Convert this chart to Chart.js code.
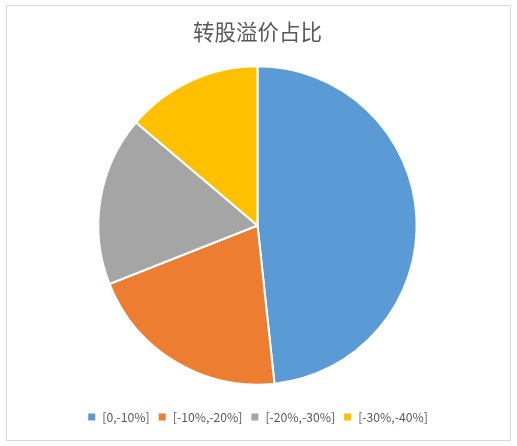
<!DOCTYPE html>
<html>
<head>
<meta charset="utf-8">
<script src="https://cdn.jsdelivr.net/npm/chart.js@4"></script>
<style>
  html, body { margin: 0; padding: 0; background: #fff; }
  #frame { position: absolute; left: 6px; top: 5px; width: 503px; height: 434px; border: 1px solid #d9d9d9; }
  #chart { position: absolute; left: 0; top: 0; }
</style>
</head>
<body>
<div id="frame"></div>
<canvas id="chart" width="517" height="446"></canvas>
<script>
const titleText = '转股溢价占比';
const categories = ['[0,-10%]', '[-10%,-20%]', '[-20%,-30%]', '[-30%,-40%]'];
const shares = [48.3, 20.7, 17.2, 13.8];
const colors = ['#5B9BD5', '#ED7D31', '#A5A5A5', '#FFC000'];

const ctx = document.getElementById('chart').getContext('2d');

new Chart(ctx, {
  type: 'pie',
  data: {
    labels: categories,
    datasets: [{
      data: shares,
      backgroundColor: colors,
      borderColor: '#ffffff',
      borderWidth: 2
    }]
  },
  options: {
    responsive: false,
    animation: false,
    layout: { padding: { top: 8, bottom: 13, left: 0, right: 2 } },
    plugins: {
      title: {
        display: true,
        text: titleText,
        color: '#595959',
        font: { family: '"Noto Sans CJK SC", sans-serif', size: 21.5, weight: 'normal' },
        padding: { top: 11, bottom: 20.5 }
      },
      legend: {
        position: 'bottom',
        // empty legend title only used as spacing above the items
        title: { display: true, text: ' ', font: { size: 1 }, padding: { top: 16, bottom: 0 } },
        labels: {
          color: '#595959',
          font: { family: '"Noto Sans CJK SC", sans-serif', size: 12.2 },
          boxWidth: 9,
          boxHeight: 9,
          padding: 8
        }
      },
      tooltip: { enabled: false }
    }
  }
});
</script>
</body>
</html>
